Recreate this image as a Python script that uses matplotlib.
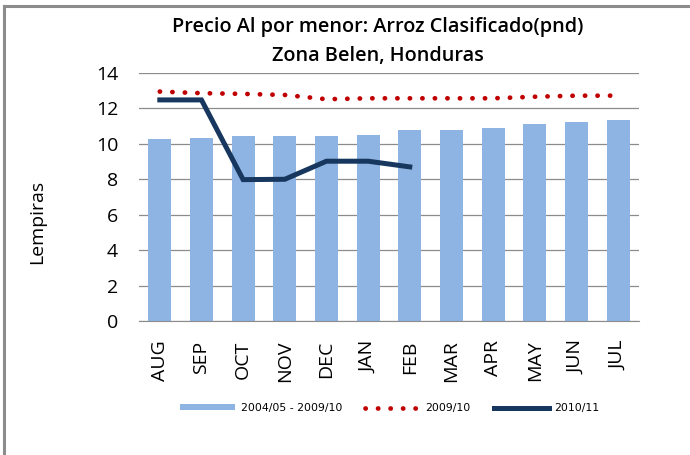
import matplotlib.pyplot as plt
import numpy as np

## datos ##
meses = ["AUG", "SEP", "OCT", "NOV", "DEC", "JAN", "FEB", "MAR", "APR", "MAY", "JUN", "JUL"]
promedio = [10.3, 10.35, 10.42, 10.47, 10.42, 10.52, 10.77, 10.77, 10.88, 11.12, 11.24, 11.36]
precio_0910 = [12.95, 12.86, 12.82, 12.76, 12.52, 12.57, 12.57, 12.57, 12.57, 12.66, 12.72, 12.72]
precio_1011 = [12.48, 12.48, 7.98, 8.0, 9.02, 9.02, 8.7]

plt.rcParams['font.family'] = ['Open Sans', 'DejaVu Sans']

fig = plt.figure(figsize=(6.9, 4.55), dpi=100)
ax = fig.add_axes([0.2014, 0.2945, 0.7246, 0.5451])

x = np.arange(len(meses))
barras = ax.bar(x, promedio, width=0.55, color='#8EB4E3', zorder=2)
l1, = ax.plot(x, precio_0910, color='#C00000', lw=3.4,
              linestyle=(0, (0.05, 2.6)), dash_capstyle='round', zorder=3)
l2, = ax.plot(x[:len(precio_1011)], precio_1011, color='#17375E', lw=3.6,
              solid_joinstyle='miter', zorder=4)

ax.set_xlim(-0.5, len(meses) - 0.5)
ax.set_ylim(0, 14)
ax.set_yticks(range(0, 15, 2))
ax.set_xticks(x)
ax.set_xticklabels(meses, rotation=90, fontsize=14)
ax.tick_params(axis='y', labelsize=14, length=0, pad=15)
ax.tick_params(axis='x', length=0, pad=14)
ax.yaxis.grid(True, color='#8C8C8C', lw=0.9, zorder=0)
for s in ['top', 'right', 'left']:
    ax.spines[s].set_visible(False)
ax.spines['bottom'].set_color('#8C8C8C')
ax.set_ylabel("Lempiras", fontsize=14)
ax.yaxis.set_label_coords(-0.186, 0.4)

fig.text(0.548, 0.94, "Precio Al por menor: Arroz Clasificado(pnd)", ha='center', va='center',
         fontsize=14.3, fontweight='semibold')
fig.text(0.548, 0.878, "Zona Belen, Honduras", ha='center', va='center',
         fontsize=14.3, fontweight='semibold')

fig.legend([barras, l1, l2], ["2004/05 - 2009/10", "2009/10", "2010/11"],
           loc='center', bbox_to_anchor=(0.565, 0.103), ncol=3, frameon=False,
           prop={'family': 'DejaVu Sans', 'size': 7.8}, handlelength=5.1,
           handleheight=0.5, handletextpad=0.5, columnspacing=2.1)

# borde del grafico
fig.add_artist(plt.Line2D([0.0065, 0.0065], [0, 0.987], color='#8C8C8C', lw=2.2))
fig.add_artist(plt.Line2D([0.0065, 1], [0.987, 0.987], color='#8C8C8C', lw=2.2))

fig.savefig("out.png", dpi=100)
